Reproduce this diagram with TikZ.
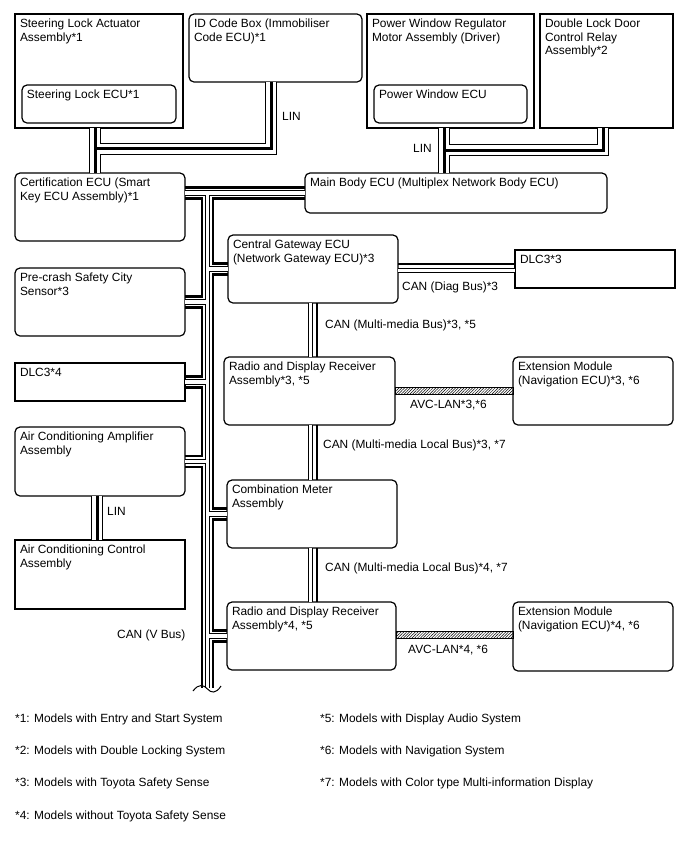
\documentclass[tikz,border=0pt]{standalone}
\usepackage{fontspec}
\setmainfont{Liberation Sans}
\usetikzlibrary{calc,patterns.meta}

\begin{document}
\begin{tikzpicture}[x=1pt, y=-1pt,
  txt/.style={font=\fontsize{11.9}{13.4}\selectfont},
  box/.style={draw, line width=1.2pt, anchor=north west, inner sep=0pt, outer sep=0pt},
  ecu/.style={box, rounded corners=5pt},
  boxtext/.style={txt, anchor=north west, inner sep=4.8pt, align=left},
  lbl/.style={txt, anchor=base west, inner sep=0pt},
  bw/.style={line width=2.8pt},
  avc/.style={draw, line width=0.7pt, pattern={Lines[angle=45,distance=2pt,line width=0.5pt]}}]
\useasboundingbox (0,0) rectangle (688,852);

% top row
\node[box, minimum width=168pt, minimum height=114pt, label={[boxtext]north west:{Steering Lock Actuator\\Assembly*1}}] (sla) at (15,14) {};
\node[ecu, minimum width=154pt, minimum height=38pt, label={[boxtext]north west:{Steering Lock ECU*1}}] (sle) at (22,85) {};
\node[ecu, minimum width=173pt, minimum height=68pt, label={[boxtext]north west:{ID Code Box (Immobiliser\\Code ECU)*1}}] (idb) at (189,14) {};
\node[box, minimum width=167pt, minimum height=114pt, label={[boxtext]north west:{Power Window Regulator\\Motor Assembly (Driver)}}] (pwr) at (367,14) {};
\node[ecu, minimum width=153pt, minimum height=38pt, label={[boxtext]north west:{Power Window ECU}}] (pwe) at (374,85) {};
\node[box, minimum width=133pt, minimum height=114pt, label={[boxtext]north west:{Double Lock Door\\Control Relay\\Assembly*2}}] (dld) at (540,14) {};

% left column
\node[ecu, minimum width=170pt, minimum height=68pt, label={[boxtext]north west:{Certification ECU (Smart\\Key ECU Assembly)*1}}] (cert) at (15,173) {};
\node[ecu, minimum width=170pt, minimum height=68pt, label={[boxtext]north west:{Pre-crash Safety City\\Sensor*3}}] (pcs) at (15,268) {};
\node[box, minimum width=170pt, minimum height=38pt, label={[boxtext]north west:{DLC3*4}}] (dlc4) at (15,363) {};
\node[ecu, minimum width=170pt, minimum height=69pt, label={[boxtext]north west:{Air Conditioning Amplifier\\Assembly}}] (aca) at (15,427) {};
\node[box, minimum width=170pt, minimum height=69pt, label={[boxtext]north west:{Air Conditioning Control\\Assembly}}] (acc) at (15,540) {};

% right side
\node[ecu, minimum width=302pt, minimum height=40pt, label={[boxtext]north west:{Main Body ECU (Multiplex Network Body ECU)}}] (main) at (305,173) {};
\node[ecu, minimum width=170pt, minimum height=68pt, label={[boxtext]north west:{Central Gateway ECU\\(Network Gateway ECU)*3}}] (cgw) at (228,235) {};
\node[box, minimum width=160pt, minimum height=38pt, label={[boxtext]north west:{DLC3*3}}] (dlc3) at (515,250) {};
\node[ecu, minimum width=171pt, minimum height=68pt, label={[boxtext]north west:{Radio and Display Receiver\\Assembly*3, *5}}] (rdr3) at (224,357) {};
\node[ecu, minimum width=160pt, minimum height=68pt, label={[boxtext]north west:{Extension Module\\(Navigation ECU)*3, *6}}] (ext3) at (513,357) {};
\node[ecu, minimum width=170pt, minimum height=68pt, label={[boxtext]north west:{Combination Meter\\Assembly}}] (cmb) at (227,480) {};
\node[ecu, minimum width=169pt, minimum height=68pt, label={[boxtext]north west:{Radio and Display Receiver\\Assembly*4, *5}}] (rdr4) at (227,602) {};
\node[ecu, minimum width=160pt, minimum height=69pt, label={[boxtext]north west:{Extension Module\\(Navigation ECU)*4, *6}}] (ext4) at (513,602) {};

% bus positions
\coordinate (tl) at (202,0);
\coordinate (tw) at (207.5,0);
\coordinate (tr) at (213,0);
\coordinate (tend) at (0,688);
\coordinate (mmw) at (310.5,0);
\coordinate (mmb) at (317,0);
\coordinate (lin1) at (95,148.5);
\coordinate (lin2) at (444,150);

% LIN lines
\foreach \lw/\lc in {12/black,10/white,3/black}{
  \draw[line width=\lw pt, \lc] (lin1 |- sla.south) -- (lin1 |- cert.north);
  \draw[line width=\lw pt, \lc] (lin1) -| ($(idb.south)+(-4.5,0)$);
  \draw[line width=\lw pt, \lc] (lin2 |- pwr.south) -- (lin2 |- main.north);
  \draw[line width=\lw pt, \lc] (lin2) -| ($(dld.south)+(-3.5,0)$);
  \draw[line width=\lw pt, \lc] ($(aca.south)+(-3,0)$) -- ($(acc.north)+(-3,0)$);
}

% CAN black wires
\draw[bw] ($(cert.east |- main.west)+(0,-5.5)$) -- ($(main.west)+(0,-5.5)$);
\draw[bw] ($(cert.east |- main.west)+(0,5.5)$) -| ($(tl |- pcs.east)+(0,-5.5)$) -- ($(pcs.east)+(0,-5.5)$);
\draw[bw] ($(pcs.east)+(0,5.5)$) -| ($(tl |- dlc4.east)+(0,-5.5)$) -- ($(dlc4.east)+(0,-5.5)$);
\draw[bw] ($(dlc4.east)+(0,5.5)$) -| ($(tl |- aca.east)+(0,-5.5)$) -- ($(aca.east)+(0,-5.5)$);
\draw[bw] ($(aca.east)+(0,5.5)$) -| (tl |- tend);
\draw[bw] ($(main.west)+(0,5.5)$) -| ($(tr |- cgw.west)+(0,-5.5)$) -- ($(cgw.west)+(0,-5.5)$);
\draw[bw] ($(cgw.west)+(0,5.5)$) -| ($(tr |- cmb.west)+(0,-5.5)$) -- ($(cmb.west)+(0,-5.5)$);
\draw[bw] ($(cmb.west)+(0,5.5)$) -| ($(tr |- rdr4.west)+(0,-5.5)$) -- ($(rdr4.west)+(0,-5.5)$);
\draw[bw] ($(rdr4.west)+(0,5.5)$) -| (tr |- tend);
\draw[bw] (mmb |- cgw.south) -- (mmb |- rdr3.north);
\draw[bw] (mmb |- rdr3.south) -- (mmb |- cmb.north);
\draw[bw] (mmb |- cmb.south) -- (mmb |- rdr4.north);
\draw[bw] ($(cgw.east)+(0,-5)$) -- ($(dlc3.west |- cgw.east)+(0,-5)$);

% CAN white wires
\foreach \lw/\lc in {5.5/black,3.5/white}{
  \draw[line width=\lw pt, \lc] (cert.east |- main.west) -- (main.west);
  \draw[line width=\lw pt, \lc] (tw |- main.west) -- (tw |- tend);
  \draw[line width=\lw pt, \lc] (pcs.east) -- (tw |- pcs.east);
  \draw[line width=\lw pt, \lc] (dlc4.east) -- (tw |- dlc4.east);
  \draw[line width=\lw pt, \lc] (aca.east) -- (tw |- aca.east);
  \draw[line width=\lw pt, \lc] (cgw.west) -- (tw |- cgw.west);
  \draw[line width=\lw pt, \lc] (cmb.west) -- (tw |- cmb.west);
  \draw[line width=\lw pt, \lc] (rdr4.west) -- (tw |- rdr4.west);
  \draw[line width=\lw pt, \lc] (mmw |- cgw.south) -- (mmw |- rdr3.north);
  \draw[line width=\lw pt, \lc] (mmw |- rdr3.south) -- (mmw |- cmb.north);
  \draw[line width=\lw pt, \lc] (mmw |- cmb.south) -- (mmw |- rdr4.north);
  \draw[line width=\lw pt, \lc] ($(cgw.east)+(0,1.5)$) -- ($(dlc3.west |- cgw.east)+(0,1.5)$);
}

% break mark at the end of the V bus
\draw[line width=1pt] (193,691) .. controls (199,683) and (204,685) .. (207.5,689) .. controls (211,693) and (216,694) .. (221,686);

% AVC-LAN
\draw[avc] ($(rdr3.east)+(0,-3.3)$) rectangle ($(ext3.west)+(0,3.3)$);
\draw[avc] ($(rdr4.east)+(0,-4.3)$) rectangle ($(ext4.west)+(0,2.3)$);

% bus labels
\node[lbl] (linid) at (282,120) {LIN};
\node[lbl] (linpw) at (413,152) {LIN};
\node[lbl] (linac) at (107,515) {LIN};
\node[lbl] (candiag) at (402,290) {CAN (Diag Bus)*3};
\node[lbl] (canmm) at (325,328) {CAN (Multi-media Bus)*3, *5};
\node[lbl] (avc3) at (410,408) {AVC-LAN*3,*6};
\node[lbl] (canml3) at (323,448) {CAN (Multi-media Local Bus)*3, *7};
\node[lbl] (canml4) at (325,571) {CAN (Multi-media Local Bus)*4, *7};
\node[lbl] (avc4) at (408,653) {AVC-LAN*4, *6};
\node[lbl] (canv) at (117,638) {CAN (V Bus)};

% notes
\node[lbl] (note1) at (15,722) {*1: Models with Entry and Start System};
\node[lbl] (note2) at (15,754) {*2: Models with Double Locking System};
\node[lbl] (note3) at (15,786) {*3: Models with Toyota Safety Sense};
\node[lbl] (note4) at (15,819) {*4: Models without Toyota Safety Sense};
\node[lbl] (note5) at (320,722) {*5: Models with Display Audio System};
\node[lbl] (note6) at (320,754) {*6: Models with Navigation System};
\node[lbl] (note7) at (320,786) {*7: Models with Color type Multi-information Display};
\end{tikzpicture}
\end{document}
